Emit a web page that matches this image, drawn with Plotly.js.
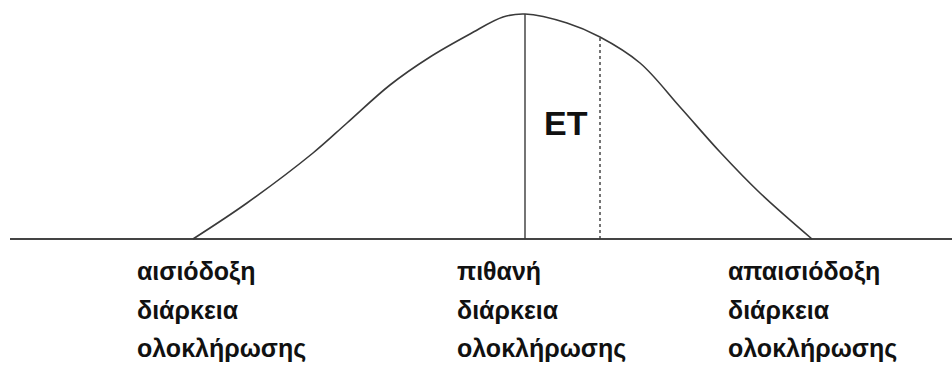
<!DOCTYPE html>
<html>
<head>
<meta charset="utf-8">
<script src="https://cdn.plot.ly/plotly-3.0.1.min.js"></script>
<style>
  html, body { margin: 0; padding: 0; background: #ffffff; }
  #chart { width: 952px; height: 365px; }
</style>
</head>
<body>
<div id="chart"></div>
<script>
// Duration distribution curve (x = duration position, h = relative density)
const curveX = [193, 247, 313, 347, 390, 430, 470, 503, 525, 567, 600, 640, 680, 720, 760, 812];
const curveH = [0, 36, 86, 116, 154, 182, 205, 222, 225, 216, 202, 176, 132, 87, 46, 0];

// Most likely duration (solid) and expected time ET (dashed)
const mostLikelyX = 525;
const mostLikelyH = 225;
const expectedX = 600;
const expectedH = 202;

// Baseline extent
const baseX = [10, 952];
const baseH = [0, 0];

// Category labels under the axis, one entry per column
const columnLines = [
  ["αισιόδοξη", "διάρκεια", "ολοκλήρωσης"],
  ["πιθανή", "διάρκεια", "ολοκλήρωσης"],
  ["απαισιόδοξη", "διάρκεια", "ολοκλήρωσης"]
];
const etLabel = "ET";

const ink = "#3a3a3a";

const traces = [
  {
    x: baseX, y: baseH, mode: "lines",
    line: { color: "#444444", width: 2 },
    hoverinfo: "skip", showlegend: false
  },
  {
    x: curveX, y: curveH, mode: "lines",
    line: { color: ink, width: 1.6, shape: "spline", smoothing: 1 },
    hoverinfo: "skip", showlegend: false
  },
  {
    x: [mostLikelyX, mostLikelyX], y: [0, mostLikelyH], mode: "lines",
    line: { color: ink, width: 1.4 },
    hoverinfo: "skip", showlegend: false
  },
  {
    x: [expectedX, expectedX], y: [0, expectedH], mode: "lines",
    line: { color: ink, width: 1.4, dash: "3px,3px" },
    hoverinfo: "skip", showlegend: false
  }
];

const colLeft = [135, 455, 726];
const rowY = [-32, -71, -109];
const annotations = [];
columnLines.forEach((lines, c) => {
  lines.forEach((txt, r) => {
    annotations.push({
      x: colLeft[c], y: rowY[r], xref: "x", yref: "y",
      text: txt, showarrow: false, xanchor: "left", yanchor: "middle",
      font: { family: "Liberation Sans, Arial, sans-serif", size: 25, color: "#111111", weight: "bold" }
    });
  });
});
annotations.push({
  x: 566, y: 116, xref: "x", yref: "y",
  text: etLabel, showarrow: false, xanchor: "center", yanchor: "middle",
  font: { family: "Liberation Sans, Arial, sans-serif", size: 34, color: "#111111", weight: "bold" }
});

const layout = {
  width: 952, height: 365,
  margin: { l: 0, r: 0, t: 0, b: 0 },
  paper_bgcolor: "#ffffff", plot_bgcolor: "#ffffff",
  xaxis: { range: [0, 952], visible: false, fixedrange: true },
  yaxis: { range: [-126, 239], visible: false, fixedrange: true },
  annotations: annotations,
  showlegend: false
};

Plotly.newPlot("chart", traces, layout, { staticPlot: true, displayModeBar: false });
</script>
</body>
</html>
